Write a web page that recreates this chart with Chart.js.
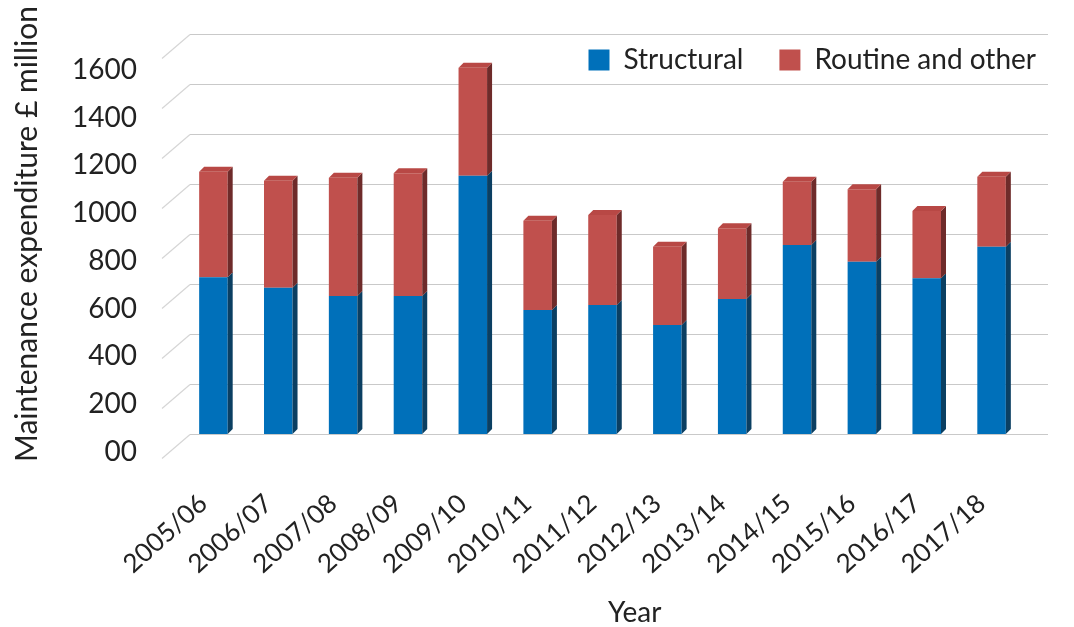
<!DOCTYPE html>
<html>
<head>
<meta charset="utf-8">
<script src="https://cdn.jsdelivr.net/npm/chart.js@4"></script>
<style>
  body { margin: 0; background: #fff; }
</style>
</head>
<body>
<canvas id="maintChart" width="1074" height="627"></canvas>
<script>
// values (approx, £ million)
const years = ['2005/06', '2006/07', '2007/08', '2008/09', '2009/10', '2010/11', '2011/12',
               '2012/13', '2013/14', '2014/15', '2015/16', '2016/17', '2017/18'];
const structural = [627, 585, 552, 552, 1033, 496, 516, 436, 540, 756, 689, 623, 749];
const routineTotal = [1049, 1013, 1025, 1043, 1465, 853, 876, 749, 823, 1009, 979, 892, 1029];
const routine = routineTotal.map((t, i) => t - structural[i]);
const yTickValues = [0, 200, 400, 600, 800, 1000, 1200, 1400, 1600];
const yTickLabels = ['00', '200', '400', '600', '800', '1000', '1200', '1400', '1600'];

const FONT = 'Lato, "Open Sans", sans-serif';
const BLUE = '#0070BA', RED = '#C0504D';
const sideColors = ['#0B3F62', '#6E2B2A'];
const LEGEND_PAD = 36;

// back wall grid + floor diagonals, drawn behind the bars
const gridPlugin = {
  id: 'wallGrid',
  beforeDatasetsDraw(chart) {
    const {ctx, chartArea} = chart;
    const y = chart.scales.y;
    ctx.save();
    ctx.lineWidth = 1.2;
    yTickValues.forEach(v => {
      const py = Math.round(y.getPixelForValue(v)) + 0.5;
      ctx.strokeStyle = '#c9c9c9';
      ctx.beginPath();
      ctx.moveTo(chartArea.left + 9, py);
      ctx.lineTo(chartArea.right + 24, py);
      ctx.stroke();
      ctx.strokeStyle = '#d6d6d6';
      ctx.beginPath();
      ctx.moveTo(chartArea.left + 9, py);
      ctx.lineTo(chartArea.left - 19, py + 24);
      ctx.stroke();
    });
    ctx.restore();
  },
  // fake depth: side and top faces of each bar
  afterDatasetsDraw(chart) {
    const ctx = chart.ctx;
    const d = 5;
    ctx.save();
    chart.data.datasets.forEach((ds, di) => {
      chart.getDatasetMeta(di).data.forEach(bar => {
        const r = bar.x + bar.width / 2, l = bar.x - bar.width / 2;
        ctx.fillStyle = sideColors[di];
        ctx.beginPath();
        ctx.moveTo(r, bar.y);
        ctx.lineTo(r + d, bar.y - d);
        ctx.lineTo(r + d, bar.base - d);
        ctx.lineTo(r, bar.base);
        ctx.closePath();
        ctx.fill();
        if (di === chart.data.datasets.length - 1) {
          ctx.fillStyle = '#B84845';
          ctx.beginPath();
          ctx.moveTo(l, bar.y);
          ctx.lineTo(l + d, bar.y - d);
          ctx.lineTo(r + d, bar.y - d);
          ctx.lineTo(r, bar.y);
          ctx.closePath();
          ctx.fill();
        }
      });
    });
    ctx.restore();
  },
  afterLayout(chart) {
    // the legend sits inside the plot, just under the top gridline
    const lg = chart.legend;
    const dy = 60 - (lg.top + LEGEND_PAD + 14);
    lg.top += dy;
    lg.bottom += dy;
    lg.left += 48;
    lg.right += 48;
  }
};

new Chart(document.getElementById('maintChart'), {
  type: 'bar',
  data: {
    labels: years,
    datasets: [
      { label: 'Structural', data: structural, backgroundColor: BLUE, stack: 's' },
      { label: 'Routine and other', data: routine, backgroundColor: RED, stack: 's' }
    ]
  },
  options: {
    responsive: false,
    animation: false,
    layout: { padding: { left: 0, right: 50, top: 34 - (LEGEND_PAD + 28 + 10), bottom: 0 } },
    barPercentage: 0.44,
    categoryPercentage: 1,
    plugins: {
      tooltip: { enabled: false },
      legend: {
        position: 'top',
        align: 'end',
        labels: {
          font: { family: FONT, size: 28 },
          color: '#222',
          boxWidth: 21,
          boxHeight: 21,
          padding: LEGEND_PAD
        }
      }
    },
    scales: {
      x: {
        stacked: true,
        grid: { display: false },
        border: { display: false },
        ticks: {
          font: { family: FONT, size: 26 },
          color: '#222',
          minRotation: 42,
          maxRotation: 42,
          padding: 46,
          labelOffset: -10
        },
        title: {
          display: true,
          text: '         Year',
          font: { family: FONT, size: 28, lineHeight: 1 },
          color: '#222',
          padding: { top: 0, bottom: 0 }
        },
        afterFit(s) { s.height = 193; }
      },
      y: {
        stacked: true,
        display: false,
        min: 0,
        max: 1600
      },
      // the value labels sit on the front edge of the floor, so they get their own scale
      yl: {
        type: 'linear',
        position: 'left',
        min: 74,
        max: 1751,
        grid: { display: false, drawTicks: false },
        border: { display: false },
        afterBuildTicks(s) { s.ticks = yTickValues.map(v => ({ value: v })); },
        ticks: {
          font: { family: FONT, size: 28 },
          color: '#222',
          padding: 44,
          autoSkip: false,
          callback: (v) => yTickLabels[yTickValues.indexOf(v)]
        },
        title: {
          display: true,
          text: 'Maintenance expenditure £ million',
          font: { family: FONT, size: 30, lineHeight: 1 },
          color: '#222',
          padding: { top: 12, bottom: 0 }
        },
        afterFit(s) {
          s.width = 181;
          // label padding must not push the plot down
          s.paddingTop = 0;
          s.paddingBottom = 0;
        }
      }
    }
  },
  plugins: [gridPlugin]
});
</script>
</body>
</html>
